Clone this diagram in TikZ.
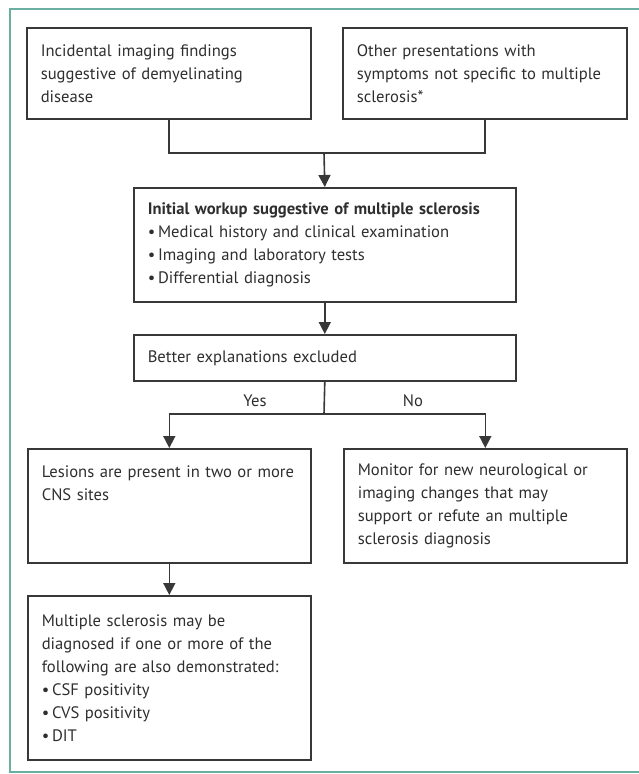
\documentclass[tikz,border=0pt]{standalone}
\usepackage{fontspec}
\setmainfont{PT Sans}
\usepackage{tikz}
\usetikzlibrary{arrows.meta}
\definecolor{msFrameTeal}{HTML}{6AAFA2}
\definecolor{msBoxGray}{HTML}{383838}
\definecolor{msTextGray}{HTML}{2E2E2E}

\begin{document}
\begin{tikzpicture}[x=1pt, y=-1pt,
        msbox/.style={draw=msBoxGray, line width=1.6pt, anchor=north west, align=left,
            inner xsep=14pt, inner ysep=0pt, text=msTextGray,
            font=\fontsize{16.6}{23}\selectfont},
        msline/.style={draw=msBoxGray, line width=1.6pt},
        msarrow/.style={msline, -{Triangle[width=12pt,length=12pt]}}]
            \useasboundingbox (0,0) rectangle (639,774);
            \draw[msFrameTeal, line width=1.5pt] (639,9) -| (10,772) -- (639,772);
            \node[msbox, text width=256pt, minimum height=91pt] (incid) at (26,27)
                {Incidental imaging findings\\suggestive of demyelinating\\disease};
            \node[msbox, text width=256pt, minimum height=91pt] (other) at (342,27)
                {Other presentations with\\symptoms not specific to multiple\\sclerosis*};
            \node[msbox, text width=354pt, minimum height=114pt] (workup) at (133,187)
                {\textbf{Initial workup suggestive of multiple sclerosis}\\
                 \textbullet\,Medical history and clinical examination\\
                 \textbullet\,Imaging and laboratory tests\\
                 \textbullet\,Differential diagnosis};
            \node[msbox, text width=354pt, minimum height=46pt] (better) at (133,334)
                {Better explanations excluded};
            \node[msbox, text width=255pt, minimum height=114pt] (lesion) at (27,448)
                {Lesions are present in two or more\\CNS sites\\~\\~};
            \node[msbox, text width=255pt, minimum height=114pt] (monitor) at (343,448)
                {Monitor for new neurological or\\imaging changes that may\\support or refute an multiple\\sclerosis diagnosis};
            \node[msbox, text width=255pt, minimum height=164pt] (msdiag) at (27,595)
                {Multiple sclerosis may be\\diagnosed if one or more of the\\following are also demonstrated:\\
                 \textbullet\,CSF positivity\\\textbullet\,CVS positivity\\\textbullet\,DIT};
            \node[text=msTextGray, font=\fontsize{16.6}{23}\selectfont] (yes) at (255,401) {Yes};
            \node[text=msTextGray, font=\fontsize{16.6}{23}\selectfont] (no) at (413,401) {No};
            \coordinate (join) at (324,153);
            \coordinate (split) at (324,414);
            \draw[msline] (incid.south) -- (incid.south |- join) -- (other.south |- join) -- (other.south);
            \draw[msarrow] (join) -- (workup.north);
            \draw[msarrow] (workup.south) -- (better.north);
            \draw[msline] (better.south) -- (split);
            \draw[msarrow] (split) -| (lesion.north);
            \draw[msarrow] (split) -| (monitor.north);
            \draw[msarrow] (lesion.south) -- (msdiag.north);
        \end{tikzpicture}
\end{document}
